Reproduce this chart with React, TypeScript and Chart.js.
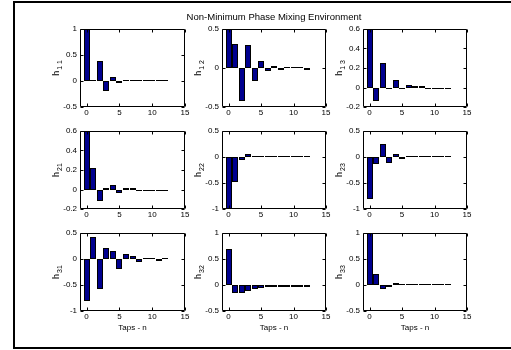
import React, { useEffect, useRef } from "react";
import { Chart, registerables } from "chart.js";

Chart.register(...registerables);

// ---------- data ----------
const taps = [0, 1, 2, 3, 4, 5, 6, 7, 8, 9, 10, 11, 12];

const h11 = [1.0, 0.01, 0.38, -0.19, 0.07, -0.028, 0.008, 0.008, 0.008, 0.008, 0.008, 0.008, 0.008];
const h12 = [0.5, 0.31, -0.42, 0.29, -0.165, 0.087, -0.043, 0.026, -0.008, 0.006, 0.006, 0.006, -0.004];
const h13 = [0.6, -0.14, 0.25, -0.02, 0.08, -0.006, 0.028, 0.006, 0.005, -0.004, -0.004, -0.004, -0.004];
const h21 = [0.6, 0.22, -0.12, 0.006, 0.045, -0.04, 0.015, 0.006, -0.01, -0.005, -0.005, -0.005, -0.005];
const h22 = [-1.0, -0.49, -0.05, 0.05, 0.02, 0.006, 0.006, 0.006, 0.006, 0.006, 0.006, 0.006, 0.006];
const h23 = [-0.8, -0.13, 0.25, -0.12, 0.05, -0.02, 0.01, 0.006, 0.006, 0.006, 0.006, 0.006, 0.006];
const h31 = [-0.8, 0.42, -0.57, 0.21, 0.16, -0.2, 0.09, 0.06, -0.065, 0.025, 0.02, -0.03, 0.015];
const h32 = [0.7, -0.16, -0.155, -0.11, -0.08, -0.05, -0.045, -0.03, -0.02, -0.01, -0.01, -0.01, -0.01];
const h33 = [1.0, 0.22, -0.08, -0.03, 0.045, 0.006, 0.006, 0.006, 0.006, 0.006, 0.006, 0.006, 0.006];

const yTicksA = [-0.5, 0, 0.5, 1];
const yTicksB = [-0.5, 0, 0.5];
const yTicksC = [-0.2, 0, 0.2, 0.4, 0.6];
const yTicksD = [-1, -0.5, 0, 0.5];

const xTicks = [0, 5, 10, 15];
const xMin = -1;
const xMax = 15;

const titleText = "Non-Minimum Phase Mixing Environment";
const xLabelText = "Taps - n";
const subs = ["1 1", "1 2", "1 3", "21", "22", "23", "31", "32", "33"];

const seriesList = [h11, h12, h13, h21, h22, h23, h31, h32, h33];
const yTickList = [yTicksA, yTicksB, yTicksC, yTicksC, yTicksD, yTicksD, yTicksD, yTicksA, yTicksA];

// ---------- style / layout ----------
const FONT = "'Liberation Sans', Arial, Helvetica, sans-serif";
const BAR = "rgb(0,0,143)";
const colLefts = [80, 222, 363];
const colWidths = [105, 104, 104];
const rowTops = [29, 131, 233];
const plotH = 78;
const PL = 50, PT = 22, PR = 45, PB = 30;

const fmt = (v: number) => {
  const r = Math.round(v * 10) / 10;
  return String(r);
};

// snap bar rectangles (computed by the scales) to whole pixels for crisp edges
const snapPlugin = {
  id: "snap",
  beforeDatasetsDraw(chart: any) {
    chart.data.datasets.forEach((_: any, di: number) => {
      const meta = chart.getDatasetMeta(di);
      meta.data.forEach((el: any) => {
        el.x = Math.round(el.x);
        el.width = 6;
        el.base = Math.round(el.base);
        const yy = Math.round(el.y);
        el.y = yy === el.base ? (el.y < el.base ? yy - 1 : yy + 1) : yy;
      });
    });
  },
};

const decorPlugin = {
  id: "decor",
  afterDraw(chart: any, _args: any, opts: any) {
    const { ctx, chartArea: a, scales } = chart;
    const xs = scales.x;
    const ys = scales.y;
    ctx.save();
    ctx.strokeStyle = "#000";
    ctx.lineWidth = 1;
    const l = Math.round(a.left) + 0.5;
    const r = Math.round(a.right) - 0.5;
    const t = Math.round(a.top) + 0.5;
    const b = Math.round(a.bottom) - 0.5;
    ctx.beginPath();
    ctx.rect(l, t, r - l, b - t);
    ctx.stroke();
    const TL = 3;
    ctx.beginPath();
    for (const tk of xs.ticks) {
      const px = Math.round(xs.getPixelForValue(tk.value)) + 0.5;
      ctx.moveTo(px, b);
      ctx.lineTo(px, b - TL);
      ctx.moveTo(px, t);
      ctx.lineTo(px, t + TL);
    }
    for (const tk of ys.ticks) {
      const py = Math.round(ys.getPixelForValue(tk.value)) + 0.5;
      ctx.moveTo(l, py);
      ctx.lineTo(l + TL, py);
      ctx.moveTo(r, py);
      ctx.lineTo(r - TL, py);
    }
    ctx.stroke();

    ctx.fillStyle = "#000";
    // y label: h with subscript, rotated
    ctx.save();
    const cx = a.left - 24;
    const cy = (a.top + a.bottom) / 2;
    ctx.translate(cx, cy);
    ctx.rotate(-Math.PI / 2);
    ctx.font = `9px ${FONT}`;
    const wH = ctx.measureText("h").width;
    ctx.font = `7px ${FONT}`;
    const wS = ctx.measureText(opts.sub).width;
    const gap = 1;
    const total = wH + wS + gap;
    ctx.textBaseline = "alphabetic";
    ctx.textAlign = "left";
    ctx.font = `9px ${FONT}`;
    ctx.fillText("h", -total / 2, 3);
    ctx.font = `7px ${FONT}`;
    ctx.fillText(opts.sub, -total / 2 + wH + gap, 6);
    ctx.restore();

    if (opts.showX) {
      ctx.font = `8px ${FONT}`;
      ctx.textAlign = "center";
      ctx.textBaseline = "alphabetic";
      ctx.fillText(xLabelText, (a.left + a.right) / 2, a.bottom + 19);
    }
    if (opts.showTitle) {
      ctx.font = `9.5px ${FONT}`;
      ctx.textAlign = "center";
      ctx.textBaseline = "alphabetic";
      ctx.fillText(titleText, (a.left + a.right) / 2, a.top - 9);
    }
    ctx.restore();
  },
};

type PanelProps = {
  idx: number;
};

function Panel({ idx }: PanelProps) {
  const ref = useRef<HTMLCanvasElement>(null);
  const col = idx % 3;
  const row = Math.floor(idx / 3);
  const w = colWidths[col];
  const left = colLefts[col];
  const top = rowTops[row];
  const cw = PL + w + PR;
  const ch = PT + plotH + PB;

  useEffect(() => {
    const values = seriesList[idx];
    const yt = yTickList[idx];
    const chart = new Chart(ref.current as HTMLCanvasElement, {
      type: "bar",
      data: {
        datasets: [
          {
            data: taps.map((t, i) => ({ x: t, y: values[i] })),
            backgroundColor: BAR,
            borderColor: "#000",
            borderWidth: 1,
            borderSkipped: false,
            barPercentage: 0.8,
            categoryPercentage: 1,
            minBarLength: 1.5,
          } as any,
        ],
      },
      options: {
        responsive: false,
        animation: false,
        devicePixelRatio: 1,
        layout: { padding: { left: 0, top: PT, right: PR, bottom: 0 } },
        plugins: {
          legend: { display: false },
          tooltip: { enabled: false },
          title: { display: false },
          decor: { sub: subs[idx], showX: row === 2, showTitle: idx === 1 },
        } as any,
        scales: {
          x: {
            type: "linear",
            min: xMin,
            max: xMax,
            offset: false,
            grid: { display: false, drawTicks: false },
            border: { display: false },
            ticks: {
              padding: 1,
              color: "#000",
              font: { family: FONT, size: 8 },
              maxRotation: 0,
              autoSkip: false,
              callback: (v: any) => fmt(Number(v)),
            },
            afterBuildTicks: (s: any) => {
              s.ticks = xTicks.map((v) => ({ value: v }));
            },
            afterFit: (s: any) => {
              s.height = PB;
            },
          },
          y: {
            type: "linear",
            min: yt[0],
            max: yt[yt.length - 1],
            grid: { display: false, drawTicks: false },
            border: { display: false },
            ticks: {
              padding: 3,
              color: "#000",
              font: { family: FONT, size: 8 },
              autoSkip: false,
              callback: (v: any) => fmt(Number(v)),
            },
            afterBuildTicks: (s: any) => {
              s.ticks = yt.map((v) => ({ value: v }));
            },
            afterFit: (s: any) => {
              s.width = PL;
            },
          },
        },
      } as any,
      plugins: [snapPlugin, decorPlugin],
    });
    return () => chart.destroy();
  }, [idx]);

  return (
    <canvas
      ref={ref}
      width={cw}
      height={ch}
      style={{ position: "absolute", left: left - PL, top: top - PT, width: cw, height: ch }}
    />
  );
}

export default function App() {
  return (
    <div
      style={{
        position: "absolute",
        left: 0,
        top: 0,
        width: 511,
        height: 350,
        overflow: "hidden",
        background: "#fff",
      }}
    >
      <div
        style={{
          position: "absolute",
          left: 13,
          top: 1,
          width: 600,
          height: 348,
          border: "2px solid #000",
          boxSizing: "border-box",
        }}
      />
      {subs.map((_, i) => (
        <Panel key={i} idx={i} />
      ))}
    </div>
  );
}
